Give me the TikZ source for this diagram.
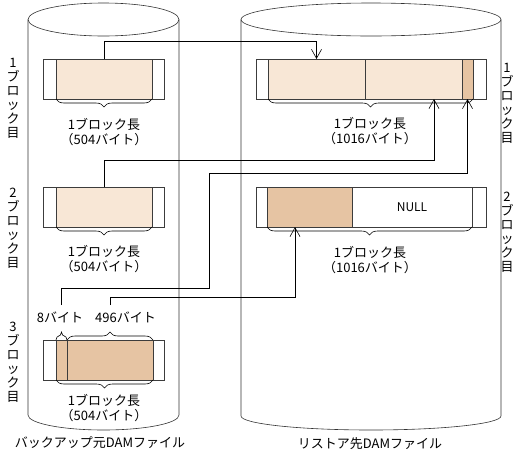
\documentclass[tikz,border=0pt]{standalone}
\usepackage{fontspec}
\setmainfont{Noto Sans CJK JP}
\usetikzlibrary{positioning,arrows.meta,decorations.pathreplacing}
\definecolor{paleclay}{RGB}{248,231,214}
\definecolor{clay}{RGB}{230,196,163}
\definecolor{rim}{RGB}{60,60,60}
\tikzset{
  blockend/.style={draw=rim, fill=white, minimum width=13pt, minimum height=40pt, inner sep=0pt, outer sep=0pt, line width=0.8pt},
  seg/.style={blockend, fill=#1},
  link/.style={-{Straight Barb[length=9pt,width=10pt]}, line width=0.6pt},
  brace/.style={decorate, decoration={brace, amplitude=8pt}, line width=0.6pt},
  brace below/.style={brace, decoration={mirror}},
  drum/.style={line width=0.6pt, draw=black!80},
  txt/.style={font=\fontsize{13}{15}\selectfont, align=center, inner sep=1pt},
  vtxt/.style={font=\fontsize{13}{14}\selectfont, align=center, inner sep=0pt},
}
\begin{document}
\begin{tikzpicture}[x=1pt, y=-1pt]
\useasboundingbox (0,0) rectangle (517,456);
% files
\draw[drum] (103.5,19.5) ellipse (75.5 and 16.5);
\draw[drum] (28,19.5) -- (28,415) arc (180:0:75.5 and 15) -- (179,19.5);
\draw[drum] (371,19.5) ellipse (130 and 16.5);
\draw[drum] (241,19.5) -- (241,416) arc (180:0:130 and 14) -- (501,19.5);

% source blocks
\node[blockend, anchor=west] (l1w) at (43,79) {};
\node[seg=paleclay, right=0pt of l1w, minimum width=96pt] (l1) {};
\node[blockend, right=0pt of l1, minimum width=12pt] (l1e) {};
\node[blockend, anchor=west] (l2w) at (43,207) {};
\node[seg=paleclay, right=0pt of l2w, minimum width=96pt] (l2) {};
\node[blockend, right=0pt of l2, minimum width=12pt] (l2e) {};
\node[blockend, anchor=west] (l3w) at (43,360) {};
\node[seg=clay, right=0pt of l3w, minimum width=11pt] (l3a) {};
\node[seg=clay, right=0pt of l3a, minimum width=86pt] (l3b) {};
\node[blockend, right=0pt of l3b, minimum width=11pt] (l3e) {};

% target blocks
\node[blockend, anchor=west, minimum width=12pt] (r1w) at (256,79) {};
\node[seg=paleclay, right=0pt of r1w, minimum width=97pt] (r1a) {};
\node[seg=paleclay, right=0pt of r1a, minimum width=97pt] (r1b) {};
\node[seg=clay, right=0pt of r1b, minimum width=11pt] (r1c) {};
\node[blockend, right=0pt of r1c] (r1e) {};
\node[blockend, anchor=west, minimum width=11pt] (r2w) at (256,207) {};
\node[seg=clay, right=0pt of r2w, minimum width=85pt] (r2a) {};
\node[seg=white, right=0pt of r2a, minimum width=120pt, font=\fontsize{12}{14}\selectfont] (r2b) {NULL};
\node[blockend, right=0pt of r2b, minimum width=14pt] (r2e) {};

% braces
\draw[brace below] (l1.south west) -- (l1.south east);
\draw[brace below] (l2.south west) -- (l2.south east);
\draw[brace below] (l3a.south west) -- (l3b.south east);
\draw[brace] (l3a.north west) -- (l3a.north east);
\draw[brace] (l3b.north west) -- (l3b.north east);
\draw[brace below] (r1a.south west) -- (r1c.south east);
\draw[brace below] (r2a.south west) -- (r2b.south east);

% labels
\node[txt] (l1txt) at (104,132.5) {1ブロック長\\（504バイト）};
\node[txt] (l2txt) at (104,259) {1ブロック長\\（504バイト）};
\node[txt] (l3txt) at (104,408) {1ブロック長\\（504バイト）};
\node[txt] (r1txt) at (370,131) {1ブロック長\\（1016バイト）};
\node[txt] (r2txt) at (370,260) {1ブロック長\\（1016バイト）};
\node[txt] (b8) at (60,317) {8バイト};
\node[txt] (b496) at (125.5,317) {496バイト};
\node[txt] (srcname) at (100,443) {バックアップ元DAMファイル};
\node[txt] (dstname) at (370,444) {リストア先DAMファイル};
\node[vtxt] (v1) at (13,98) {1\\ブ\\ロ\\ッ\\ク\\目};
\node[vtxt] (v2) at (13,228) {2\\ブ\\ロ\\ッ\\ク\\目};
\node[vtxt] (v3) at (13,362) {3\\ブ\\ロ\\ッ\\ク\\目};
\node[vtxt] (w1) at (507,103) {1\\ブ\\ロ\\ッ\\ク\\目};
\node[vtxt] (w2) at (507,232) {2\\ブ\\ロ\\ッ\\ク\\目};

% copies
\coordinate (jog) at (209,173);
\draw[link] (l1.north) -- ++(0,-18) -| (r1a.north);
\draw[link] (l2.north) -- ++(0,-27) -| ([xshift=20.5pt]r1b.south);
\draw[link] ([yshift=35pt]l3a.north) -- ++(0,-17) -| (jog) -| (r1c.south);
\draw[link] ([yshift=35pt]l3b.north) -- ++(0,-8) -| ([xshift=-14.5pt]r2a.south);
\end{tikzpicture}
\end{document}
